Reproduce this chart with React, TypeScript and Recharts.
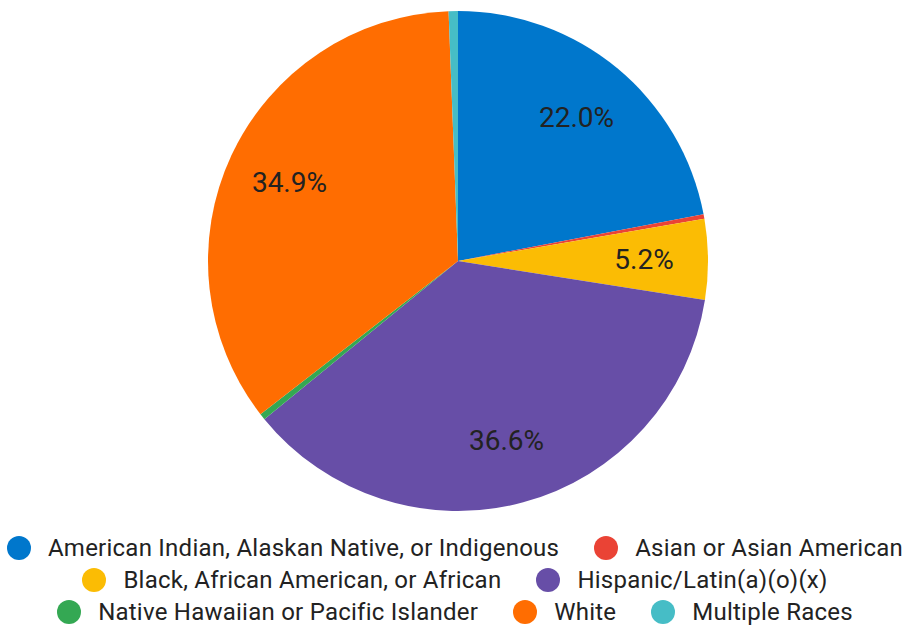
import { PieChart, Pie, Cell, Legend } from "recharts";

const categories = [
  "American Indian, Alaskan Native, or Indigenous",
  "Asian or Asian American",
  "Black, African American, or African",
  "Hispanic/Latin(a)(o)(x)",
  "Native Hawaiian or Pacific Islander",
  "White",
  "Multiple Races",
];

const shares = [22.0, 0.3, 5.2, 36.6, 0.4, 34.9, 0.6];

const colors = ["#0077cc", "#ea4335", "#fbbc04", "#674ea7", "#34a853", "#ff6d01", "#46bdc6"];

const data = categories.map((name, i) => ({ name, value: shares[i] }));

const RADIAN = Math.PI / 180;

function renderLabel(props: any) {
  const { cx, cy, midAngle, percent } = props;
  if (percent < 0.03) return null;
  const r = 186;
  const x = cx + r * Math.cos(-midAngle * RADIAN);
  const y = cy + r * Math.sin(-midAngle * RADIAN);
  return (
    <text
      x={x}
      y={y}
      fill="#222"
      fontSize={28}
      fontFamily="Roboto"
      textAnchor="middle"
      dominantBaseline="central"
    >
      {(percent * 100).toFixed(1)}%
    </text>
  );
}

function renderLegend() {
  return (
    <div
      style={{
        display: "flex",
        flexWrap: "wrap",
        justifyContent: "center",
        columnGap: 35,
        rowGap: 4,
        fontFamily: "Roboto",
        fontSize: 24,
        letterSpacing: 0.24,
        color: "#222",
        lineHeight: "28px",
      }}
    >
      {categories.map((name, i) => (
        <div key={name} style={{ display: "flex", alignItems: "center", whiteSpace: "nowrap" }}>
          <span
            style={{
              display: "inline-block",
              width: 24,
              height: 24,
              borderRadius: 12,
              background: colors[i],
              marginRight: 17,
            }}
          />
          {name}
        </div>
      ))}
    </div>
  );
}

export default function App() {
  return (
    <div style={{ position: "absolute", left: 0, top: 0, width: 910, height: 625, background: "#fff" }}>
      <PieChart width={910} height={625} margin={{ top: 0, right: 0, bottom: 0, left: 0 }}>
        <Pie
          data={data}
          dataKey="value"
          nameKey="name"
          cx={458}
          cy={261}
          outerRadius={250}
          startAngle={90}
          endAngle={-270}
          stroke="none"
          labelLine={false}
          label={renderLabel}
          isAnimationActive={false}
        >
          {data.map((d, i) => (
            <Cell key={d.name} fill={colors[i]} />
          ))}
        </Pie>
        <Legend
          content={renderLegend}
          wrapperStyle={{ position: "absolute", left: 0, top: 534, width: 910 }}
        />
      </PieChart>
    </div>
  );
}
